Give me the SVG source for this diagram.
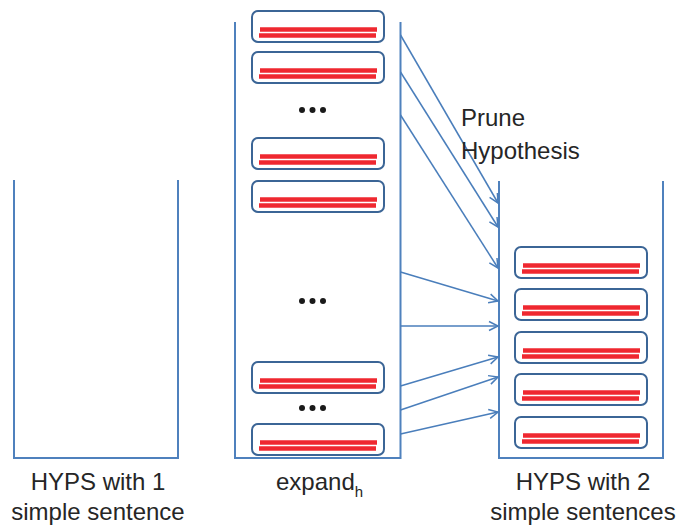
<svg xmlns="http://www.w3.org/2000/svg" width="680" height="529" viewBox="0 0 680 529">
<style>
.cont{fill:none;stroke:#4f81bd;stroke-width:2}
.box{fill:#fff;stroke:#3b6596;stroke-width:2}
.red{stroke:#ee1c25;stroke-width:4.5;stroke-opacity:0.95}
.arr{fill:none;stroke:#4a7ebb;stroke-width:1.5}
.dot{fill:#1a1a1a}
text{font-family:"Liberation Sans",Arial,sans-serif;font-size:24px;fill:#262626}
</style>
<defs>
<marker id="ah" markerWidth="12" markerHeight="12" refX="10" refY="6" orient="auto" markerUnits="userSpaceOnUse">
<path d="M1,1.5 L10,6 L1,10.5" fill="none" stroke="#4a7ebb" stroke-width="1.5"/>
</marker>
<g id="hyp">
<rect x="0" y="0" width="132" height="31" rx="6" class="box"/>
<line x1="8" y1="18.5" x2="125" y2="18.5" class="red"/>
<line x1="7" y1="24.5" x2="124" y2="24.5" class="red"/>
</g>
</defs>
<rect width="680" height="529" fill="#fff"/>
<g id="left-stack">
<path class="cont" d="M14,180 V458 H178 V180"/>
<text x="98" y="490" text-anchor="middle">HYPS with 1</text>
<text x="98" y="520" text-anchor="middle">simple sentence</text>
</g>
<g id="expand-stack">
<path class="cont" d="M235,22 V458 H400.5 V22"/>
<use href="#hyp" x="252" y="11"/>
<use href="#hyp" x="252" y="52"/>
<use href="#hyp" x="252" y="138"/>
<use href="#hyp" x="252" y="181"/>
<use href="#hyp" x="252" y="362"/>
<use href="#hyp" x="252" y="424"/>
<circle class="dot" cx="302" cy="110" r="3"/><circle class="dot" cx="312.5" cy="110" r="3"/><circle class="dot" cx="323" cy="110" r="3"/>
<circle class="dot" cx="302" cy="301" r="3"/><circle class="dot" cx="312.5" cy="301" r="3"/><circle class="dot" cx="323" cy="301" r="3"/>
<circle class="dot" cx="302" cy="408" r="3"/><circle class="dot" cx="312.5" cy="408" r="3"/><circle class="dot" cx="323" cy="408" r="3"/>
<text x="276" y="490">expand<tspan font-size="15" dy="7">h</tspan></text>
</g>
<g id="pruned-stack">
<path class="cont" d="M499,181 V458 H663 V181"/>
<use href="#hyp" x="515" y="247"/>
<use href="#hyp" x="515" y="289"/>
<use href="#hyp" x="515" y="332"/>
<use href="#hyp" x="515" y="374"/>
<use href="#hyp" x="515" y="417"/>
<text x="583" y="490" text-anchor="middle">HYPS with 2</text>
<text x="583" y="520" text-anchor="middle">simple sentences</text>
</g>
<g id="connectors">
<line class="arr" marker-end="url(#ah)" x1="400.5" y1="35" x2="498" y2="203"/>
<line class="arr" marker-end="url(#ah)" x1="400.5" y1="72" x2="498" y2="227"/>
<line class="arr" marker-end="url(#ah)" x1="400.5" y1="115" x2="498" y2="268"/>
<line class="arr" marker-end="url(#ah)" x1="400.5" y1="272" x2="498" y2="301"/>
<line class="arr" marker-end="url(#ah)" x1="400.5" y1="326" x2="498" y2="326"/>
<line class="arr" marker-end="url(#ah)" x1="400.5" y1="386" x2="498" y2="357"/>
<line class="arr" marker-end="url(#ah)" x1="400.5" y1="410" x2="498" y2="377"/>
<line class="arr" marker-end="url(#ah)" x1="400.5" y1="434" x2="498" y2="412"/>
</g>
<g id="prune-label">
<text x="461" y="126">Prune</text>
<text x="461" y="159">Hypothesis</text>
</g>
</svg>
